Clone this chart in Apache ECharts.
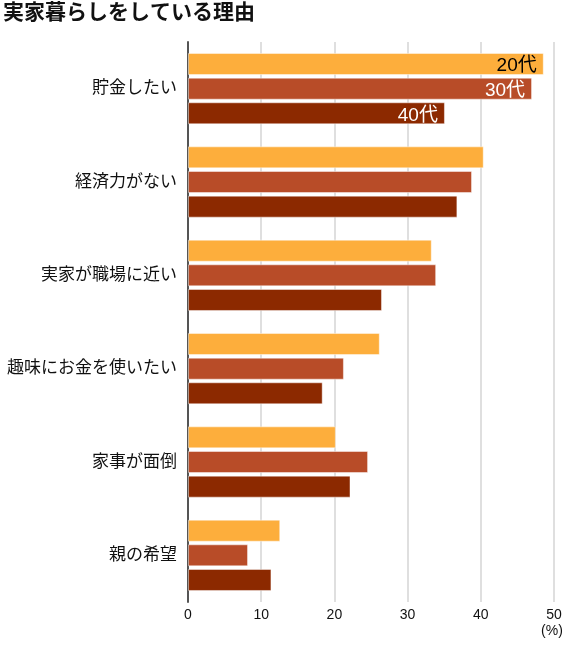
<!DOCTYPE html>
<html>
<head>
<meta charset="utf-8">
<script src="https://cdn.jsdelivr.net/npm/echarts@6/dist/echarts.min.js"></script>
<style>
html,body{margin:0;padding:0;background:#fff;}
#main{width:572px;height:645px;}
</style>
</head>
<body>
<div id="main"></div>
<script>
const titleText = '実家暮らしをしている理由';
const categories = ['貯金したい', '経済力がない', '実家が職場に近い', '趣味にお金を使いたい', '家事が面倒', '親の希望'];
const seriesNames = ['20代', '30代', '40代'];
const values20 = [48.6, 40.4, 33.3, 26.2, 20.2, 12.6];
const values30 = [47.0, 38.8, 33.9, 21.3, 24.6, 8.2];
const values40 = [35.1, 36.8, 26.5, 18.4, 22.2, 11.4];
const xTicks = [0, 10, 20, 30, 40, 50];
const colors = ['#FDAE3C', '#B84C28', '#8C2900'];
const labelColors = ['#000000', '#ffffff', '#ffffff'];
const allValues = [values20, values30, values40];

const font = '"Liberation Sans", "Noto Sans CJK JP", sans-serif';
const chart = echarts.init(document.getElementById('main'));

const series = seriesNames.map((name, si) => ({
  name: name,
  type: 'bar',
  barWidth: 22,
  barGap: '12%',
  itemStyle: { color: colors[si], borderColor: 'rgba(255,255,255,0.45)', borderWidth: 1 },
  data: allValues[si].map((v, i) => ({
    value: v,
    label: {
      show: i === 0,
      position: 'insideRight',
      distance: 7,
      offset: [0, 2],
      formatter: '{a}',
      color: labelColors[si],
      fontSize: 19,
      fontFamily: font
    }
  }))
}));

chart.setOption({
  animation: false,
  title: {
    text: titleText,
    left: 3,
    top: 3,
    padding: 0,
    textStyle: { fontSize: 21, fontWeight: 'bold', color: '#111', fontFamily: font }
  },
  grid: { left: 188, right: 18, top: 42, bottom: 43, containLabel: false },
  xAxis: {
    type: 'value',
    min: xTicks[0],
    max: xTicks[xTicks.length - 1],
    interval: 10,
    name: '(%)',
    nameLocation: 'end',
    nameGap: -2,
    nameTextStyle: { color: '#111', fontSize: 14, fontFamily: font, align: 'center', verticalAlign: 'top', padding: [22, 0, 0, 0] },
    axisLine: { show: false },
    axisTick: { show: false },
    axisLabel: { color: '#111', fontSize: 14, fontFamily: font, margin: 6 },
    splitLine: { show: true, lineStyle: { color: '#d4d4d4', width: 1.5 } }
  },
  yAxis: {
    type: 'category',
    inverse: true,
    data: categories,
    axisLine: { show: true, lineStyle: { color: '#555', width: 2 } },
    axisTick: { show: false },
    axisLabel: { color: '#111', fontSize: 17, fontFamily: font, margin: 11 }
  },
  series: series
});
</script>
</body>
</html>
